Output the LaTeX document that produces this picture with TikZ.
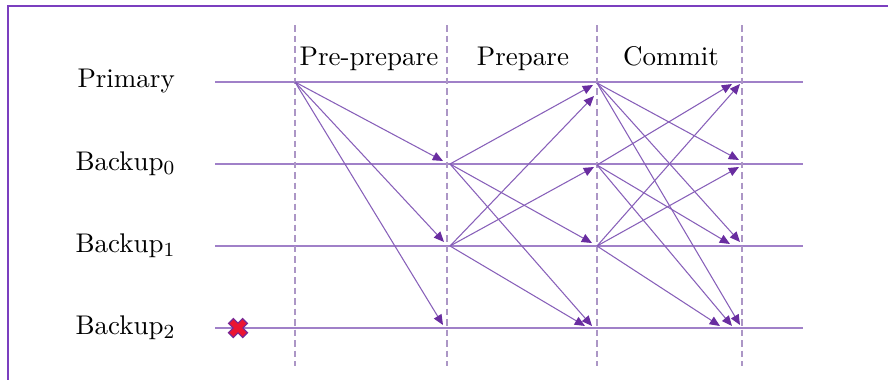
\documentclass[tikz,border=0pt]{standalone}
\usetikzlibrary{arrows.meta,calc}
\definecolor{frameC}{RGB}{123,63,191}
\definecolor{rowC}{RGB}{160,128,200}
\definecolor{dashC}{RGB}{172,150,198}
\definecolor{msgC}{RGB}{135,95,185}
\definecolor{headC}{RGB}{105,45,160}
\definecolor{xred}{RGB}{235,20,50}
\definecolor{xedge}{RGB}{120,40,150}
\tikzset{
  rowline/.style={draw=rowC, line width=0.5pt},
  phaseline/.style={draw=dashC, line width=0.45pt, dash pattern=on 2.6pt off 1.6pt},
  msg/.style={draw=msgC, line width=0.42pt, -{Triangle[length=4.1pt,width=3.5pt,color=headC]}},
  lbl/.style={anchor=base west, inner sep=0pt, font=\fontsize{10.8}{13}\selectfont},
  phaselbl/.style={anchor=base, inner sep=0pt, font=\fontsize{10.8}{13}\selectfont},
}
\begin{document}
\begin{tikzpicture}[x=0.4pt,y=-0.4pt]
\useasboundingbox (0,0) rectangle (888,380);
\fill[white] (0,0) rectangle (888,380);
% frame (left and top edges)
\coordinate (fTR) at (888,5.5);
\coordinate (fTL) at (7.5,5.5);
\coordinate (fBL) at (7.5,380);
\draw[frameC, line width=0.8pt] (fBL) -- (fTL) -- (fTR);

% row labels
\node[lbl] (prim) at (77,87) {Primary};
\node[lbl] (bk0) at (75,170) {Backup$_0$};
\node[lbl] (bk1) at (75,252) {Backup$_1$};
\node[lbl] (bk2) at (75,334) {Backup$_2$};

% phase labels
\node[phaselbl] (pp) at (369,65) {Pre-prepare};
\node[phaselbl] (pr) at (523,65) {Prepare};
\node[phaselbl] (cm) at (671,65) {Commit};

% row lines
\foreach \i/\y in {0/82,1/164,2/246,3/328}{
  \coordinate (rl\i) at (215,\y);
  \coordinate (rr\i) at (803,\y);
  \draw[rowline] (rl\i) -- (rr\i);
}
% phase lines
\foreach \i/\x in {0/295,1/447,2/597,3/742}{
  \coordinate (vt\i) at (\x,25);
  \coordinate (vb\i) at (\x,366);
  \draw[phaseline] (vt\i) -- (vb\i);
}

% failed node marker
\coordinate (xc) at (238,328);
\draw[xedge, line width=3.2pt] ($(xc)+(-7.5,-7.5)$) -- ($(xc)+(7.5,7.5)$) ($(xc)+(7.5,-7.5)$) -- ($(xc)+(-7.5,7.5)$);

% sources
\coordinate (a0) at (295,82);
\coordinate (q0) at (450,164);
\coordinate (q1) at (450,246);
\coordinate (c0) at (597,83);
\coordinate (c1) at (597,165);
\coordinate (c2) at (597,246);

% pre-prepare tips
\coordinate (t01) at (443,161);
\coordinate (t02) at (444,242);
\coordinate (t03) at (443,325);
\draw[msg] (a0) -- (t01);
\draw[msg] (a0) -- (t02);
\draw[msg] (a0) -- (t03);

% prepare tips
\coordinate (p10) at (593,85);
\coordinate (p12) at (592,243);
\coordinate (p13) at (592,326);
\coordinate (p20) at (594,96);
\coordinate (p21) at (594,167);
\coordinate (p23) at (585,326);
\draw[msg] (q0) -- (p10);
\draw[msg] (q0) -- (p12);
\draw[msg] (q0) -- (p13);
\draw[msg] (q1) -- (p20);
\draw[msg] (q1) -- (p21);
\draw[msg] (q1) -- (p23);

% commit tips
\coordinate (k01) at (739,160);
\coordinate (k02) at (740,242);
\coordinate (k03) at (740,325);
\coordinate (k10) at (732,84);
\coordinate (k12) at (730,244);
\coordinate (k13) at (732,326);
\coordinate (k20) at (740,84);
\coordinate (k21) at (739,167);
\coordinate (k23) at (720,326);
\draw[msg] (c0) -- (k01);
\draw[msg] (c0) -- (k02);
\draw[msg] (c0) -- (k03);
\draw[msg] (c1) -- (k10);
\draw[msg] (c1) -- (k12);
\draw[msg] (c1) -- (k13);
\draw[msg] (c2) -- (k20);
\draw[msg] (c2) -- (k21);
\draw[msg] (c2) -- (k23);

% red cross on top
\draw[xred, line width=2.2pt] ($(xc)+(-6.5,-6.5)$) -- ($(xc)+(6.5,6.5)$) ($(xc)+(6.5,-6.5)$) -- ($(xc)+(-6.5,6.5)$);
\end{tikzpicture}
\end{document}
